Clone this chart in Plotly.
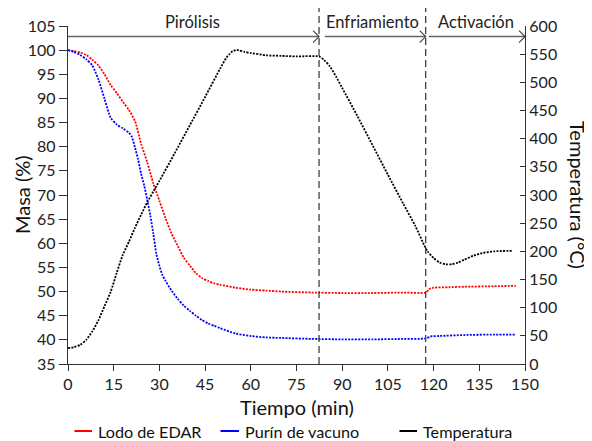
import plotly.graph_objects as go

# ---- data ----
time_lodo = [0, 2, 4, 6, 8, 10, 12, 14, 16, 18, 20, 22, 24, 26, 28, 30, 32, 34, 36, 38,
             40, 42, 44, 46, 48, 50, 55, 60, 65, 70, 80, 90, 100, 110, 117.5, 118.5,
             120, 125, 130, 140, 147]
lodo = [100, 99.8, 99.5, 99.0, 98.0, 96.8, 95.0, 92.8, 91.1, 89.3, 87.6, 85.3, 80.6,
        76.8, 72.4, 68.8, 65.2, 62.0, 59.5, 57.0, 55.4, 53.8, 52.8, 52.2, 51.7, 51.4,
        50.8, 50.4, 50.2, 50.0, 49.8, 49.7, 49.7, 49.8, 49.8, 50.5, 50.8, 50.9, 51.0,
        51.1, 51.2]

time_purin = [0, 2, 4, 6, 8, 10, 12, 14, 16, 18, 20, 21, 22, 23, 24, 25, 26, 27, 28, 29,
              30, 31, 32, 34, 36, 38, 40, 42, 44, 46, 48, 50, 55, 60, 65, 70, 80, 90,
              100, 110, 117.5, 119, 122, 130, 140, 147]
purin = [100, 99.6, 99.0, 98.1, 96.8, 93.9, 89.9, 86.0, 84.6, 83.8, 82.9, 82.0, 79.8,
         77.4, 74.4, 72.0, 69.0, 65.8, 62.0, 57.8, 55.3, 53.4, 52.2, 50.2, 48.5, 47.1,
         46.0, 45.0, 44.1, 43.4, 42.9, 42.4, 41.3, 40.8, 40.5, 40.4, 40.2, 40.1, 40.1,
         40.2, 40.3, 40.7, 40.8, 41.0, 41.1, 41.1]

time_temp = [0, 2, 4, 6, 8, 10, 12, 14, 16, 18, 20, 22, 24, 26, 28, 30, 35, 40, 45, 50,
             52, 53, 54, 55, 56, 58, 60, 65, 70, 75, 82.4, 84, 86, 88, 90, 95, 100, 105,
             110, 114, 117, 118, 120, 122, 124, 126, 128, 130, 133, 136, 140, 146]
temp = [28, 30, 34, 43, 58, 78, 103, 128, 162, 194, 217, 242, 265, 287, 306, 325, 374,
        424, 474, 525, 544, 550, 555, 557, 557, 554, 552, 548, 547, 546, 546, 540, 528,
        510, 490, 440, 388, 336, 285, 245, 210, 200, 188, 180, 177, 177, 180, 185, 192,
        197, 200, 201]

phase_labels = ["Pirólisis", "Enfriamiento", "Activación"]
phase_label_x = [41, 99.8, 133.9]
phase_bounds = [0, 82.4, 117.4, 150]

series_names = ["Lodo de EDAR", "Purín de vacuno", "Temperatura"]
series_colors = ["#ff0000", "#0000ff", "#000000"]

FONT = "Lato"
# plot area in page pixels (the page body adds an 8px offset)
PL, PR, PT, PB = 68, 525, 26, 364
PW, PH = PR - PL, PB - PT


def px_x(xs):
    return (xs - PL) / PW


def px_y(ys):
    return (PB - ys) / PH


fig = go.Figure()

line_style = dict(width=1.8, dash="2px,1.3px", shape="spline", smoothing=0.6)
fig.add_trace(go.Scatter(x=time_lodo, y=lodo, mode="lines", name=series_names[0],
                         line=dict(color=series_colors[0], **line_style)))
fig.add_trace(go.Scatter(x=time_purin, y=purin, mode="lines", name=series_names[1],
                         line=dict(color=series_colors[1], **line_style)))
fig.add_trace(go.Scatter(x=time_temp, y=temp, mode="lines", name=series_names[2], yaxis="y2",
                         line=dict(color=series_colors[2], **line_style)))

shapes = []
# vertical dashed phase separators
for xb in phase_bounds[1:3]:
    shapes.append(dict(type="line", xref="x", yref="paper", x0=xb, x1=xb, y0=0, y1=1.068,
                       line=dict(color="#404040", width=1.3, dash="7px,4px")))
# horizontal arrows
arrow_y = 102.8
segs = [(phase_bounds[0], phase_bounds[1]), (phase_bounds[1] + 1.9, phase_bounds[2]),
        (phase_bounds[2] + 1.0, phase_bounds[3])]
for a, b in segs:
    shapes.append(dict(type="line", xref="x", yref="y", x0=a, x1=b, y0=arrow_y, y1=arrow_y,
                       line=dict(color="#666666", width=1.5, dash="solid")))
    shapes.append(dict(type="path", xref="x", yref="y", xsizemode="pixel", ysizemode="pixel",
                       xanchor=b, yanchor=arrow_y, path="M-6,-6 L0,0 L-6,6",
                       line=dict(color="#444444", width=1.2, dash="solid")))

annotations = []
for lab, lx in zip(phase_labels, phase_label_x):
    annotations.append(dict(text=lab, x=lx, xref="x", y=px_y(22), yref="paper",
                            showarrow=False, yanchor="middle",
                            font=dict(family=FONT, size=16.5, color="#222222")))
annotations.append(dict(text="Masa (%)", x=px_x(22), xref="paper", y=0.5, yref="paper",
                        textangle=-90, showarrow=False, xanchor="center", yanchor="middle",
                        font=dict(family=FONT, size=20, color="#111111")))
annotations.append(dict(text="Temperatura (°C)", x=px_x(578), xref="paper", y=0.5,
                        yref="paper", textangle=90, showarrow=False, xanchor="center",
                        yanchor="middle", font=dict(family=FONT, size=20, color="#111111")))
annotations.append(dict(text="Tiempo (min)", x=0.5, xref="paper", y=px_y(407), yref="paper",
                        showarrow=False, xanchor="center", yanchor="middle",
                        font=dict(family=FONT, size=20, color="#111111")))

# manual legend (solid line sample + label) below the axis
leg_line_x = [(73, 92), (219, 239), (398, 417)]
leg_y = px_y(431)
for (a, b), name, col in zip(leg_line_x, series_names, series_colors):
    # solid sample line drawn as an arrow-less annotation line (offsets in pixels)
    annotations.append(dict(text="", x=px_x(b), y=leg_y, xref="paper", yref="paper",
                            ax=-(b - a), ay=0, showarrow=True, arrowhead=0, arrowwidth=2,
                            arrowcolor=col, standoff=0, startstandoff=0))
    annotations.append(dict(text=name, x=px_x(b + 4), xref="paper", y=leg_y, yref="paper",
                            showarrow=False, xanchor="left", yanchor="middle",
                            font=dict(family=FONT, size=16.2, color="#111111")))

fig.update_layout(
    width=584, height=433,
    margin=dict(l=PL - 8, r=592 - PR, t=PT - 8, b=441 - PB, autoexpand=False),
    paper_bgcolor="white", plot_bgcolor="white",
    font=dict(family=FONT, size=16, color="#222222"),
    showlegend=False,
    shapes=shapes, annotations=annotations,
    xaxis=dict(range=[0, 150], tick0=0, dtick=15, showgrid=False, zeroline=False,
               showline=True, linecolor="#333333", linewidth=1.3, automargin=False,
               ticks="outside", ticklen=6, tickcolor="#333333",
               tickfont=dict(family=FONT, size=16)),
    yaxis=dict(range=[35, 105], tick0=35, dtick=5, showgrid=False, zeroline=False,
               showline=True, linecolor="#333333", linewidth=1.3, automargin=False,
               ticks="outside", ticklen=8, tickcolor="#333333",
               tickfont=dict(family=FONT, size=16)),
    yaxis2=dict(range=[0, 600], tick0=0, dtick=50, overlaying="y", side="right",
                showgrid=False, zeroline=False, showline=True, linecolor="#333333",
                linewidth=1.3, ticks="inside", ticklen=5, tickcolor="#333333",
                automargin=False, tickfont=dict(family=FONT, size=16)),
)

fig.write_html("out.html")
